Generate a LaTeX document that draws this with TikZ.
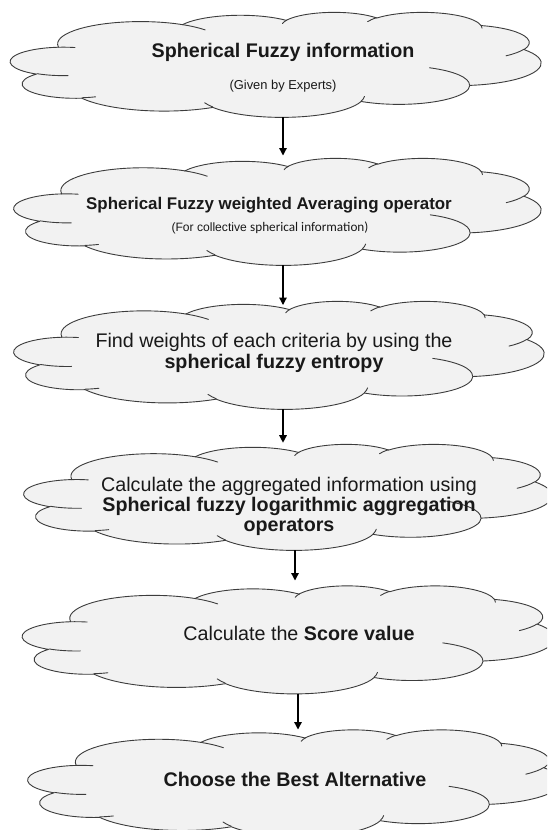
\documentclass[tikz,border=0pt]{standalone}
\usepackage{fontspec}
\setmainfont{Liberation Sans}
\newfontfamily\calib{Carlito}
\usetikzlibrary{arrows.meta,calc}
\definecolor{cloudfill}{HTML}{F2F2F2}
\definecolor{cloudline}{HTML}{3C3C3C}
% visual (DrawingML) angle -> parametric angle
\newcommand\pang[4]{%
  \pgfmathsetmacro\pgtmp{atan2((#2)*sin(#4),(#3)*cos(#4))-(#4)}%
  \pgfmathsetmacro\pgtmp{(#4)+\pgtmp-360*round(\pgtmp/360)}%
  \expandafter\xdef\csname #1\endcsname{\pgtmp}}
\newcommand\parc[5]{\pang{arc#1s}{#2}{#3}{#4}\pang{arc#1e}{#2}{#3}{#4+#5}}
% outer outline
\parc{A}{6.753}{9.19}{-190.4875}{123.7805}
\parc{B}{5.333}{7.267}{-144.1024}{89.9452}
\parc{C}{4.365}{5.945}{-145.8079}{99.7230}
\parc{D}{4.857}{6.595}{-130.9861}{117.2417}
\parc{E}{5.333}{7.273}{-78.7089}{109.0269}
\parc{F}{6.775}{9.22}{-46.2673}{130.269}
\parc{G}{5.785}{7.867}{0.625}{114.0333}
\parc{H}{6.752}{9.215}{22.4516}{115.1726}
\parc{I}{7.72}{10.543}{66.2426}{75.7110}
\parc{J}{4.36}{5.918}{-274.9421}{146.7356}
\parc{K}{4.345}{5.945}{-246.8285}{152.5189}
% inner lines
\parc{a}{4.345}{5.945}{86.742}{26.4295}
\parc{b}{4.36}{5.918}{73.6105}{11.4475}
\parc{c}{6.752}{9.215}{137.6242}{14.0811}
\parc{d}{6.752}{9.215}{6.4533}{15.9984}
\parc{e}{5.785}{7.867}{-70.2924}{70.9174}
\parc{f}{5.333}{7.273}{30.318}{27.7515}
\parc{g}{4.857}{6.595}{-13.7443}{14.8589}
\parc{h}{4.857}{6.595}{-149.1815}{18.1954}
\parc{i}{4.365}{5.945}{-163.4943}{17.6864}
\parc{j}{6.753}{9.19}{-66.7069}{19.0924}
\parc{k}{4.345}{5.945}{-94.31}{13.57}
\newcommand\cloudouter{(3.9cm,14.37cm)
 arc[x radius=6.753cm,y radius=9.19cm,start angle=\arcAs,end angle=\arcAe]
 arc[x radius=5.333cm,y radius=7.267cm,start angle=\arcBs,end angle=\arcBe]
 arc[x radius=4.365cm,y radius=5.945cm,start angle=\arcCs,end angle=\arcCe]
 arc[x radius=4.857cm,y radius=6.595cm,start angle=\arcDs,end angle=\arcDe]
 arc[x radius=5.333cm,y radius=7.273cm,start angle=\arcEs,end angle=\arcEe]
 arc[x radius=6.775cm,y radius=9.22cm,start angle=\arcFs,end angle=\arcFe]
 arc[x radius=5.785cm,y radius=7.867cm,start angle=\arcGs,end angle=\arcGe]
 arc[x radius=6.752cm,y radius=9.215cm,start angle=\arcHs,end angle=\arcHe]
 arc[x radius=7.72cm,y radius=10.543cm,start angle=\arcIs,end angle=\arcIe]
 arc[x radius=4.36cm,y radius=5.918cm,start angle=\arcJs,end angle=\arcJe]
 arc[x radius=4.345cm,y radius=5.945cm,start angle=\arcKs,end angle=\arcKe]
 -- cycle}
\newcommand\cloudinner{
 (4.693cm,26.177cm) arc[x radius=4.345cm,y radius=5.945cm,start angle=\arcas,end angle=\arcae]
 (6.928cm,34.899cm) arc[x radius=4.36cm,y radius=5.918cm,start angle=\arcbs,end angle=\arcbe]
 (16.478cm,39.09cm) arc[x radius=6.752cm,y radius=9.215cm,start angle=\arccs,end angle=\arcce]
 (28.827cm,34.751cm) arc[x radius=6.752cm,y radius=9.215cm,start angle=\arcds,end angle=\arcde]
 (34.129cm,22.954cm) arc[x radius=5.785cm,y radius=7.867cm,start angle=\arces,end angle=\arcee]
 (41.798cm,15.354cm) arc[x radius=5.333cm,y radius=7.273cm,start angle=\arcfs,end angle=\arcfe]
 (38.324cm,5.426cm) arc[x radius=4.857cm,y radius=6.595cm,start angle=\arcgs,end angle=\arcge]
 (29.078cm,3.952cm) arc[x radius=4.857cm,y radius=6.595cm,start angle=\archs,end angle=\arche]
 (22.141cm,4.72cm) arc[x radius=4.365cm,y radius=5.945cm,start angle=\arcis,end angle=\arcie]
 (14cm,5.192cm) arc[x radius=6.753cm,y radius=9.19cm,start angle=\arcjs,end angle=\arcje]
 (3.865cm,14.506cm) arc[x radius=4.345cm,y radius=5.945cm,start angle=\arcks,end angle=\arcke]}
\tikzset{
  cloudshape/.style={fill=cloudfill,draw=cloudline,line width=0.9pt,line join=round},
  cloudlines/.style={draw=cloudline,line width=0.9pt,line cap=round},
  cloudbox/.style={draw=none,rectangle,inner sep=0pt,outer sep=0pt},
  txt/.style={inner sep=0pt,align=center,anchor=base,text=black!90},
  big/.style={font=\fontsize{19.7}{21}\selectfont},
  arr/.style={line width=1.3pt,-{Triangle[length=7.5pt,width=7.5pt]}}
}
\newcommand\wcloud[5]{%
  \begin{scope}[shift={(#2,#3)},xscale=#4/1229.16,yscale=-#5/1229.16]
    \path[cloudshape] \cloudouter;
    \path[cloudlines] \cloudinner;
  \end{scope}
  \node[cloudbox,minimum width=#4pt,minimum height=#5pt] (#1) at ({#2+#4/2},{#3+#5/2}) {};}
\begin{document}
\begin{tikzpicture}[x=1pt,y=-1pt]
\useasboundingbox (0,0) rectangle (547,830);
\fill[white] (0,0) rectangle (547,830);
\clip (0,0) rectangle (547,830);
% clouds
\wcloud{c1}{10.5}{12}{530.5}{105}
\wcloud{c2}{14}{158}{527}{107}
\wcloud{c3}{14}{301}{530}{108}
\wcloud{c4}{24}{444}{528}{106}
\wcloud{c5}{22.5}{585.5}{532}{108}
\wcloud{c6}{28}{729.5}{533}{107}
% texts (base anchor = baseline of the last line)
\node[txt,big] (t1) at (283,57.6) {\textbf{Spherical Fuzzy information}};
\node[txt,font=\fontsize{12.9}{14}\selectfont] (t1b) at (283,89) {(Given by Experts)};
\node[txt,font=\fontsize{16.9}{18}\selectfont] (t2) at (269,209.8) {\textbf{Spherical Fuzzy weighted Averaging operator}};
\node[txt] (t2b) at (270,231.4) {{\fontsize{12.1}{14}\selectfont(For collective }{\calib\fontsize{13.2}{14}\selectfont spherical information)}};
\node[txt,font=\fontsize{19.7}{21.2}\selectfont] (t3) at (274,368.7) {Find weights of each criteria by using the\\\textbf{spherical fuzzy entropy}};
\node[txt,font=\fontsize{19.7}{19.75}\selectfont] (t4) at (289,531) {Calculate the aggregated information using\\\textbf{Spherical fuzzy logarithmic aggregation}\\\textbf{operators}};
\node[txt,big] (t5) at (299,640.8) {Calculate the \textbf{Score value}};
\node[txt,big] (t6) at (295,786.5) {\textbf{Choose the Best Alternative}};
% arrow guides
\coordinate (g1) at (283,0);
\coordinate (g4) at (295,0);
\coordinate (g5) at (298,0);
\draw[arr] (c1.south -| g1) -- ($(c2.north -| g1)+(0,-2.5)$);
\draw[arr] (c2.south -| g1) -- ($(c3.north -| g1)+(0,4)$);
\draw[arr] (c3.south -| g1) -- ($(c4.north -| g1)+(0,-1.3)$);
\draw[arr] (c4.south -| g4) -- ($(c5.north -| g4)+(0,-5)$);
\draw[arr] (c5.south -| g5) -- ($(c6.north -| g5)+(0,0)$);
\end{tikzpicture}
\end{document}
